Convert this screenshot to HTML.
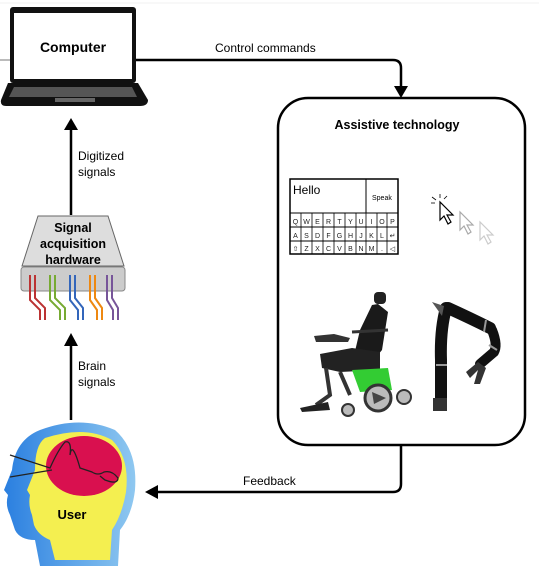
<!DOCTYPE html>
<html><head><style>
body{margin:0;background:#fff;}
svg text{font-family:"Liberation Sans",Arial,sans-serif;}
</style></head><body>
<svg width="539" height="566" viewBox="0 0 539 566" xmlns="http://www.w3.org/2000/svg">
<rect width="539" height="566" fill="#fff"/>
<line x1="0" y1="3" x2="539" y2="3" stroke="#f0f0f0" stroke-width="1"/>
<line x1="0" y1="60" x2="10" y2="60" stroke="#bbb" stroke-width="2"/>
<!-- laptop -->
<rect x="10" y="7" width="126" height="76" rx="3" fill="#111"/>
<rect x="14" y="13" width="118" height="66" fill="#fff"/>
<text x="73" y="52" font-size="14" font-weight="bold" text-anchor="middle">Computer</text>
<path d="M8 83 L138 83 L148 100 Q148 106 140 106 L6 106 Q0 106 1 100 Z" fill="#111"/>
<path d="M14 87 L132 87 L137 97 L9 97 Z" fill="#555"/>
<rect x="55" y="98" width="40" height="4" fill="#666"/>
<!-- control commands -->
<path d="M136 60 L393 60 Q401 60 401 68 L401 88" fill="none" stroke="#000" stroke-width="2.5"/>
<path d="M394 86 L408 86 L401 98 Z" fill="#000"/>
<text x="215" y="52" font-size="12">Control commands</text>
<!-- assistive box -->
<rect x="278" y="98" width="247" height="347" rx="30" fill="#fff" stroke="#000" stroke-width="2.5"/>
<text x="397" y="129" font-size="12.5" font-weight="bold" text-anchor="middle">Assistive technology</text>
<!-- keyboard -->
<g stroke="#000" stroke-width="1" fill="none">
<rect x="290" y="179" width="108" height="75" stroke-width="1.5"/>
<line x1="290" y1="213" x2="398" y2="213"/>
<line x1="366" y1="179" x2="366" y2="213"/>
<line x1="290" y1="227" x2="398" y2="227"/>
<line x1="290" y1="241" x2="398" y2="241"/>
</g>
<g stroke="#000" stroke-width="0.8">
<line x1="301" y1="213" x2="301" y2="254"/><line x1="312" y1="213" x2="312" y2="254"/><line x1="323" y1="213" x2="323" y2="254"/><line x1="334" y1="213" x2="334" y2="254"/><line x1="345" y1="213" x2="345" y2="254"/><line x1="356" y1="213" x2="356" y2="254"/><line x1="366" y1="213" x2="366" y2="254"/><line x1="377" y1="213" x2="377" y2="254"/><line x1="387" y1="213" x2="387" y2="254"/>
</g>
<text x="293" y="194" font-size="12">Hello</text>
<text x="372" y="200" font-size="7">Speak</text>
<g font-size="7" text-anchor="middle" fill="#222">
<text x="295.5" y="224">Q</text><text x="306.5" y="224">W</text><text x="317.5" y="224">E</text><text x="328.5" y="224">R</text><text x="339.5" y="224">T</text><text x="350.5" y="224">Y</text><text x="361" y="224">U</text><text x="371.5" y="224">I</text><text x="382" y="224">O</text><text x="392.5" y="224">P</text>
<text x="295.5" y="238">A</text><text x="306.5" y="238">S</text><text x="317.5" y="238">D</text><text x="328.5" y="238">F</text><text x="339.5" y="238">G</text><text x="350.5" y="238">H</text><text x="361" y="238">J</text><text x="371.5" y="238">K</text><text x="382" y="238">L</text><text x="392.5" y="238">↵</text>
<text x="295.5" y="251">⇧</text><text x="306.5" y="251">Z</text><text x="317.5" y="251">X</text><text x="328.5" y="251">C</text><text x="339.5" y="251">V</text><text x="350.5" y="251">B</text><text x="361" y="251">N</text><text x="371.5" y="251">M</text><text x="382" y="251">.</text><text x="392.5" y="251">◁</text>
</g>
<!-- cursors -->
<g stroke-width="1.2" fill="#fff">
<path d="M480 222 L480 240 L484 236 L488 244 L491 242 L487 235 L493 235 Z" stroke="#ccc"/>
<path d="M460 212 L460 230 L464 226 L468 234 L471 232 L467 225 L473 225 Z" stroke="#aaa"/>
<path d="M440 202 L440 220 L444 216 L448 224 L451 222 L447 215 L453 215 Z" stroke="#000"/>
</g>
<g stroke="#000" stroke-width="0.8"><line x1="440" y1="198" x2="440" y2="194"/><line x1="436" y1="200" x2="432" y2="197"/><line x1="444" y1="199" x2="447" y2="196"/><line x1="435" y1="203" x2="431" y2="203"/></g>
<!-- wheelchair -->
<g>
<rect x="374" y="292" width="12" height="12" rx="4" fill="#222"/>
<path d="M378 304 L388 312 L382 350 L372 362 L352 364 L360 330 L372 305 Z" fill="#1a1a1a"/>
<path d="M320 354 L352 348 L380 352 L380 370 L340 372 L322 368 Z" fill="#222"/>
<path d="M314 336 L334 334 L350 338 L348 342 L316 342 Z" fill="#333"/>
<path d="M352 332 L388 330" stroke="#333" stroke-width="3"/>
<path d="M326 368 L330 395 L316 405 M340 372 L350 395" stroke="#333" stroke-width="4" fill="none"/>
<path d="M352 370 L388 368 L392 390 L360 392 Z" fill="#3c3"/>
<circle cx="378" cy="398" r="13" fill="#bbb" stroke="#333" stroke-width="3"/>
<path d="M372 392 L386 398 L374 404 Z" fill="#444"/>
<circle cx="404" cy="397" r="7" fill="#bbb" stroke="#333" stroke-width="2"/>
<circle cx="348" cy="410" r="6" fill="#bbb" stroke="#333" stroke-width="2"/>
<path d="M300 408 L328 402 L330 410 L302 412 Z" fill="#222"/>
</g>
<!-- robot arm -->
<g fill="none" stroke="#111" stroke-linecap="round">
<path d="M441 402 L441 360 Q440 330 446 308" stroke-width="12"/>
<path d="M448 308 Q470 318 490 328" stroke-width="12"/>
<path d="M492 330 Q498 345 494 352 L480 364" stroke-width="10"/>
</g>
<g stroke="#999" stroke-width="2"><line x1="436" y1="365" x2="447" y2="365"/><line x1="486" y1="320" x2="484" y2="332"/><line x1="489" y1="345" x2="497" y2="350"/></g>
<path d="M478 362 L466 372 L470 378 L478 370 L474 384 L480 384 L486 368 Z" fill="#333"/>
<path d="M432 302 L442 316 L444 306 Z" fill="#555"/>
<rect x="433" y="398" width="14" height="13" fill="#333"/>
<!-- feedback -->
<path d="M401 445 L401 484 Q401 492 393 492 L156 492" fill="none" stroke="#000" stroke-width="2.5"/>
<path d="M158 485 L158 499 L145 492 Z" fill="#000"/>
<text x="243" y="485" font-size="12">Feedback</text>
<!-- digitized arrow -->
<line x1="71" y1="128" x2="71" y2="215" stroke="#000" stroke-width="2.5"/>
<path d="M64 130 L78 130 L71 118 Z" fill="#000"/>
<text x="78" y="160" font-size="12">Digitized</text>
<text x="78" y="176" font-size="12">signals</text>
<!-- hardware -->
<path d="M38 216 L108 216 L124 266 L22 266 Z" fill="#ddd" stroke="#666" stroke-width="1"/>
<text x="73" y="232" font-size="12.5" font-weight="bold" text-anchor="middle">Signal</text>
<text x="73" y="248" font-size="12.5" font-weight="bold" text-anchor="middle">acquisition</text>
<text x="73" y="264" font-size="12.5" font-weight="bold" text-anchor="middle">hardware</text>
<rect x="21" y="267" width="104" height="24" rx="3" fill="#ccc" stroke="#888"/>
<g fill="none" stroke-width="2">
<path d="M30 275 L30 300 L40 310 L40 320 M35 275 L35 298 L45 308 L45 320" stroke="#b33"/>
<path d="M50 275 L50 300 L60 310 L60 320 M55 275 L55 298 L65 308 L65 320" stroke="#7a3"/>
<path d="M70 275 L70 300 L78 310 L78 320 M75 275 L75 298 L83 308 L83 320" stroke="#36b"/>
<path d="M90 275 L90 300 L97 310 L97 320 M95 275 L95 298 L102 308 L102 320" stroke="#e81"/>
<path d="M107 275 L107 300 L113 310 L113 320 M112 275 L112 298 L118 308 L118 320" stroke="#759"/>
</g>
<!-- brain arrow -->
<line x1="71" y1="345" x2="71" y2="420" stroke="#000" stroke-width="2.5"/>
<path d="M64 346 L78 346 L71 333 Z" fill="#000"/>
<text x="78" y="370" font-size="12">Brain</text>
<text x="78" y="386" font-size="12">signals</text>
<!-- head -->
<defs><linearGradient id="hg" x1="0" x2="1"><stop offset="0" stop-color="#2a7fe0"/><stop offset="1" stop-color="#8fc8f0"/></linearGradient></defs>
<path d="M40 430 Q80 415 115 430 Q138 450 135 490 Q132 515 120 530 L118 566 L40 566 L35 540 Q20 540 15 530 L10 515 Q5 505 8 495 L4 490 L12 470 Q15 440 40 430 Z" fill="url(#hg)"/>
<path d="M45 438 Q85 425 112 440 Q130 458 126 492 Q122 515 112 530 L110 560 L55 560 L50 540 Q38 535 34 525 L32 515 Q28 505 30 495 L27 490 L35 470 Q35 445 45 438 Z" fill="#f4ef50"/>
<ellipse cx="84" cy="466" rx="38" ry="30" fill="#d9104f"/>
<path d="M10 455 L50 468 Q58 450 65 442 Q72 440 70 455 Q72 440 80 468 L92 472 Q98 476 104 472 Q112 470 118 478 Q118 485 105 480 L100 476 M10 477 L52 470" fill="none" stroke="#222" stroke-width="1.3"/>
<text x="72" y="519" font-size="13" font-weight="bold" text-anchor="middle">User</text>
</svg>
</body></html>
